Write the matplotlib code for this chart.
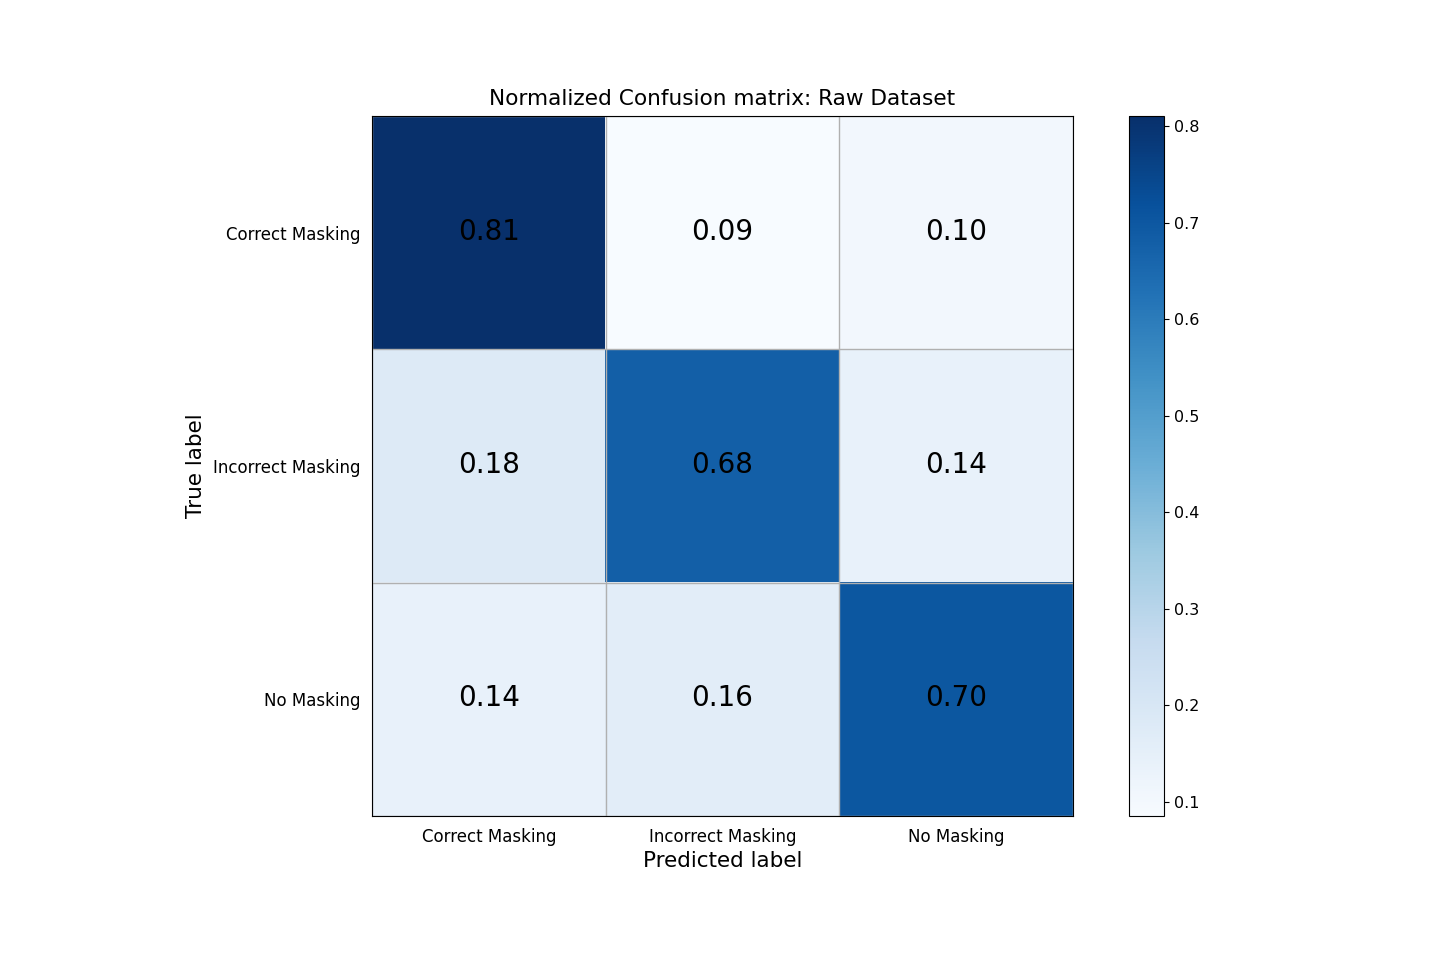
import numpy as np
import matplotlib
matplotlib.use("Agg")
import matplotlib.pyplot as plt

classes = ["Correct Masking", "Incorrect Masking", "No Masking"]
row_correct = [0.8103, 0.0855, 0.1042]
row_incorrect = [0.180, 0.680, 0.140]
row_none = [0.140, 0.160, 0.700]
cm = np.array([row_correct, row_incorrect, row_none])

fig = plt.figure(figsize=(14.4, 9.6), dpi=100)
ax = fig.add_axes([372 / 1440, 1 - 816 / 960, 701 / 1440, 700 / 960])
cax = fig.add_axes([1129 / 1440, 1 - 816 / 960, 35 / 1440, 700 / 960])

im = ax.imshow(cm, interpolation="nearest", cmap=plt.cm.Blues, aspect="auto")
ax.set_title("Normalized Confusion matrix: Raw Dataset", fontsize=15.6, pad=8)
cb = fig.colorbar(im, cax=cax)
cb.ax.tick_params(labelsize=11.5)

ticks = np.arange(len(classes))
ax.set_xticks(ticks)
ax.set_xticklabels(classes, fontsize=12)
ax.set_yticks(ticks)
ax.set_yticklabels(classes, fontsize=12)
ax.tick_params(length=0, pad=8.5)

# grid lines on the cell borders
ax.set_xticks(np.arange(-0.5, len(classes), 1), minor=True)
ax.set_yticks(np.arange(-0.5, len(classes), 1), minor=True)
ax.grid(which="minor", color="#b0b0b0", linewidth=1)
ax.tick_params(which="minor", length=0)

for i in range(cm.shape[0]):
    for j in range(cm.shape[1]):
        ax.text(j, i - 0.004, f"{cm[i, j]:.2f}", ha="center", va="center",
                color="black", fontsize=20)

ax.set_ylabel("True label", fontsize=15.5, labelpad=5)
ax.set_xlabel("Predicted label", fontsize=15.5, labelpad=4)

fig.savefig("out.png", dpi=100)
